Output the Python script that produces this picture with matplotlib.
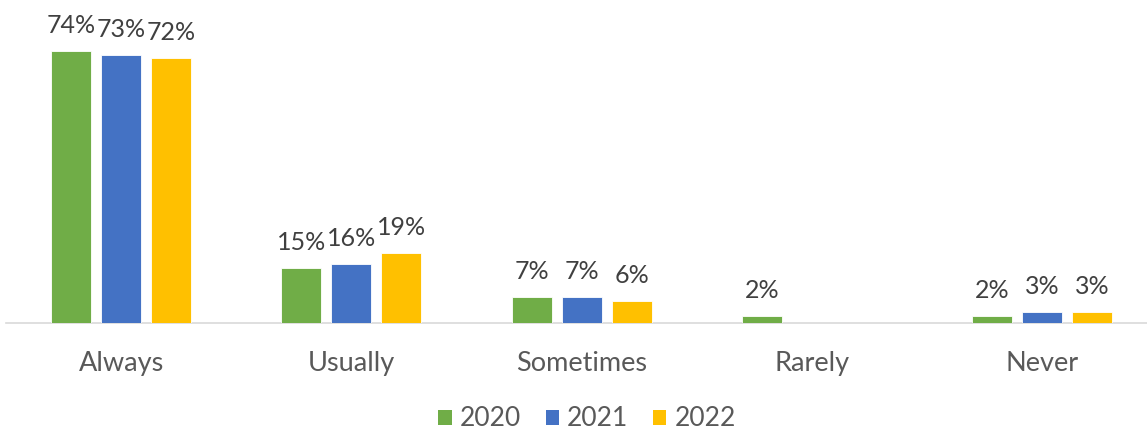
import matplotlib
matplotlib.use("Agg")
import matplotlib.pyplot as plt
from matplotlib.patches import Patch
import numpy as np

categories = ["Always", "Usually", "Sometimes", "Rarely", "Never"]
years = ["2020", "2021", "2022"]
values_2020 = [74, 15, 7, 2, 2]
values_2021 = [73, 16, 7, 0, 3]
values_2022 = [72, 19, 6, 0, 3]
series = [values_2020, values_2021, values_2022]
colors = ["#70AD47", "#4472C4", "#FFC000"]

plt.rcParams["font.family"] = ["Lato", "DejaVu Sans"]

W, H = 1147, 432
fig = plt.figure(figsize=(W / 100, H / 100), dpi=100)
step_px = 230.3
left_px = 6
base_px = 323
ax_h_px = 294
ax = fig.add_axes([left_px / W, (H - base_px) / H, step_px * 5 / W, ax_h_px / H])

x = np.arange(len(categories))
bar_w = 40 / step_px
offset = 50 / step_px

for i, (vals, col) in enumerate(zip(series, colors)):
    pos = x + (i - 1) * offset
    bars = ax.bar(pos, vals, width=bar_w, color=col, edgecolor="white", linewidth=0.6, zorder=3)
    for b, v in zip(bars, vals):
        if v > 0:
            ax.annotate(f"{v}%", (b.get_x() + b.get_width() / 2, v),
                        xytext=(0, 13), textcoords="offset points",
                        ha="center", va="baseline", fontsize=18, color="#404040")

ax.set_xlim(-0.5, len(categories) - 0.5)
ax.set_ylim(0, 80)
ax.set_yticks([])
ax.set_xticks(x)
ax.set_xticklabels(categories, fontsize=19.5, color="#595959")
ax.tick_params(axis="x", length=0, pad=20)
for s in ["top", "right", "left"]:
    ax.spines[s].set_visible(False)
ax.spines["bottom"].set_color("#D9D9D9")
ax.spines["bottom"].set_linewidth(1.2)

handles = [Patch(facecolor=c, edgecolor="none") for c in colors]
fig.legend(handles, years, loc="center", bbox_to_anchor=(587 / W, 1 - 419 / H),
           ncol=3, frameon=False, fontsize=19, handlelength=0.5, handleheight=0.5,
           handletextpad=0.3, columnspacing=0.95, labelcolor="#595959",
           borderpad=0.1)

fig.savefig("out.png", dpi=100)
